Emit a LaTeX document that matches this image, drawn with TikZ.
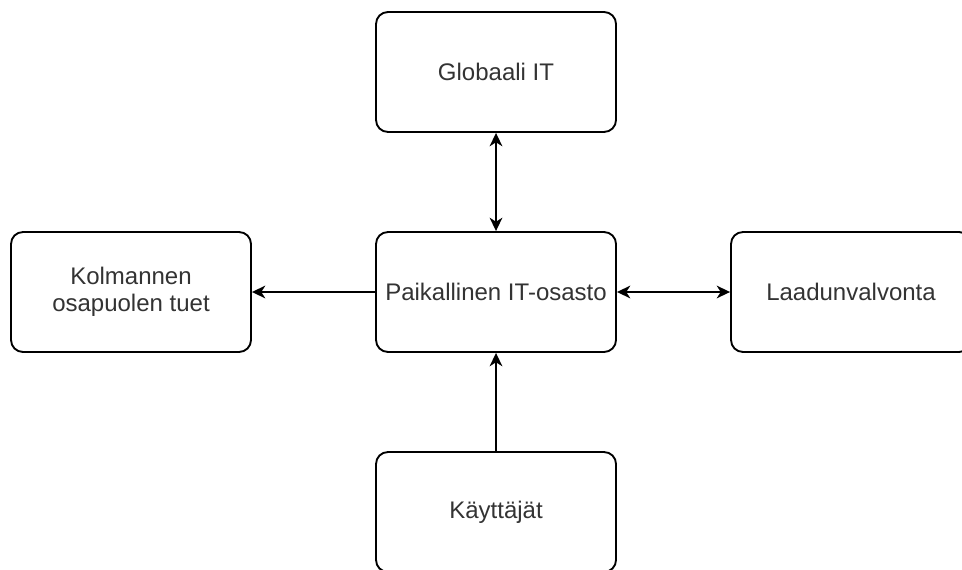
\documentclass[tikz,border=0pt]{standalone}
\usepackage{fontspec}
\setmainfont{Liberation Sans}
\usetikzlibrary{arrows.meta}
\begin{document}
\begin{tikzpicture}[x=0.75pt,y=-0.75pt,
  box/.style={draw=black, line width=1.4pt, rounded corners=9pt, fill=white,
    minimum width=180pt, minimum height=90pt, inner sep=0pt, align=center,
    text=black!80, font=\fontsize{18}{20.5}\selectfont},
  conn/.style={draw=black, line width=1.4pt},
  tip/.tip={Stealth[length=10pt,width=9.5pt,inset=3pt]}]
\useasboundingbox (0,0) rectangle (962,570);
\node[box] (glob) at (496,72) {Globaali IT};
\node[box] (kol) at (131,292) {Kolmannen\\osapuolen tuet};
\node[box] (paik) at (496,292) {Paikallinen IT-osasto};
\node[box] (laad) at (851,292) {Laadunvalvonta};
\node[box] (kay) at (496,512) {Käyttäjät};
\draw[conn, tip-tip] (glob) -- (paik);
\draw[conn, -tip] (paik) -- (kol);
\draw[conn, tip-tip] (paik) -- (laad);
\draw[conn, -tip] (kay) -- (paik);
\end{tikzpicture}
\end{document}
